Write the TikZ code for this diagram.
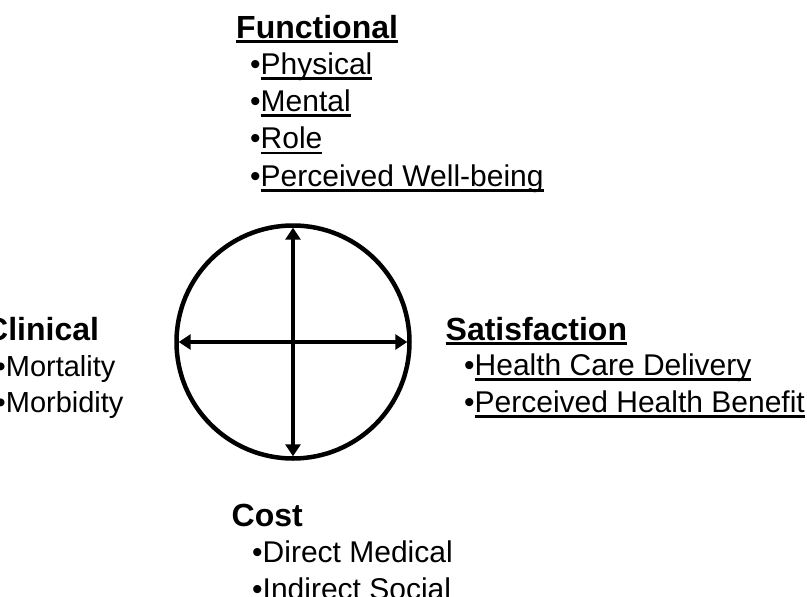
\documentclass[tikz,border=0pt]{standalone}
\usepackage{fontspec}
\setmainfont{Liberation Sans}
\usetikzlibrary{arrows.meta}
\newcommand*{\hubsize}{233pt}
\newcommand*{\headfont}{\fontsize{32}{38}\selectfont\bfseries}
\newcommand*{\itemfont}{\fontsize{30}{36}\selectfont}
\newsavebox{\ulbox}
\newcommand*{\ulhead}[1]{\sbox\ulbox{#1}\rlap{\rule[-5pt]{\wd\ulbox}{3.2pt}}\usebox\ulbox}
\newcommand*{\ulitem}[1]{\sbox\ulbox{#1}\rlap{\rule[-5.5pt]{\wd\ulbox}{2.4pt}}\usebox\ulbox}

\begin{document}
\begin{tikzpicture}[x=1pt, y=-1pt,
    head/.style  = {anchor=base west, inner sep=0, font=\headfont},
    entry/.style = {anchor=base west, inner sep=0, font=\itemfont},
    crossarrow/.style = {line width=3.8pt, {Triangle[length=12pt,width=15pt]}-{Triangle[length=12pt,width=15pt]},
                         shorten <=2.2pt, shorten >=2.2pt}]
    \useasboundingbox (0,0) rectangle (807,597);
    % the wheel
    \node (hub) [circle, draw, line width=4.5pt, minimum size=\hubsize, inner sep=0, outer sep=0] at (293,342) {};
    \draw [crossarrow] (hub.north) -- (hub.south);
    \draw [crossarrow] (hub.west) -- (hub.east);
    % functional
    \node [head]  (functional) at (236,38)    {\ulhead{Functional}};
    \node [entry] (physical)   at (250,74)    {•\ulitem{Physical}};
    \node [entry] (mental)     at (250,111)   {•\ulitem{Mental}};
    \node [entry] (role)       at (250,148.5) {•\ulitem{Role}};
    \node [entry] (wellbeing)  at (250,186)   {•\ulitem{Perceived Well-being}};
    % satisfaction
    \node [head]  (satisfaction) at (445.5,340) {\ulhead{Satisfaction}};
    \node [entry] (delivery)     at (464,375)   {•\ulitem{Health Care Delivery}};
    \node [entry] (benefit)      at (464,412)   {•\ulitem{Perceived Health Benefit}};
    % clinical
    \node [head]  (clinical)  at (-15,340) {Clinical};
    \node [entry, font=\fontsize{29}{35}\selectfont] (mortality) at (-4.5,376) {•Mortality};
    \node [entry, font=\fontsize{29}{35}\selectfont] (morbidity) at (-4.5,412) {•Morbidity};
    % cost
    \node [head]  (cost)     at (231.5,526) {Cost};
    \node [entry] (direct)   at (252,562)   {•Direct Medical};
    \node [entry] (indirect) at (252,599)   {•Indirect Social};
\end{tikzpicture}
\end{document}
